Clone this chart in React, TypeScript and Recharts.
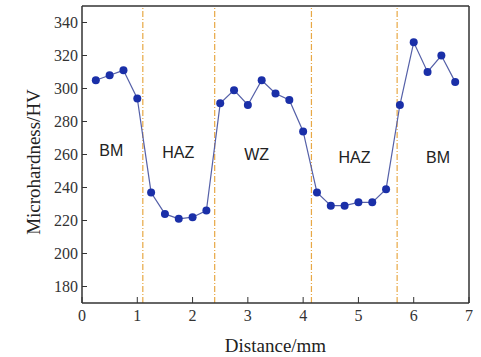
import React from 'react';
import {
  ComposedChart,
  Line,
  Scatter,
  XAxis,
  YAxis,
  ReferenceLine,
} from 'recharts';

// distance (mm) and microhardness (HV)
const distances = [
  0.25, 0.5, 0.75, 1.0, 1.25, 1.5, 1.75, 2.0, 2.25, 2.5, 2.75, 3.0, 3.25, 3.5,
  3.75, 4.0, 4.25, 4.5, 4.75, 5.0, 5.25, 5.5, 5.75, 6.0, 6.25, 6.5, 6.75,
];
const hardness = [
  305, 308, 311, 294, 237, 224, 221, 222, 226, 291, 299, 290, 305, 297,
  293, 274, 237, 229, 229, 231, 231, 239, 290, 328, 310, 320, 304,
];

// zone boundaries (dash-dot lines)
const boundaries = [1.1, 2.4, 4.15, 5.7];

// zone labels
const zoneNames = ['BM', 'HAZ', 'WZ', 'HAZ', 'BM'];
const zoneX = [0.53, 1.74, 3.16, 4.93, 6.44];
const zoneY = [262.5, 261, 260, 258.3, 258.3];

const xTicks = [0, 1, 2, 3, 4, 5, 6, 7];
const yTicks = [180, 200, 220, 240, 260, 280, 300, 320, 340];

const data = distances.map((d, i) => ({ d, hv: hardness[i] }));
const zones = zoneNames.map((name, i) => ({ d: zoneX[i], hv: zoneY[i], name }));

const serif = "'Liberation Serif', 'Times New Roman', serif";
const sans = "'Liberation Sans', Arial, sans-serif";
const axisColor = '#333';

const ZoneLabel = (props: any) => {
  const { cx, cy, payload } = props;
  return (
    <text
      x={cx}
      y={cy}
      textAnchor="middle"
      dominantBaseline="central"
      fontFamily={sans}
      fontSize={16}
      fill="#222"
    >
      {payload.name}
    </text>
  );
};

export default function App() {
  return (
    <div style={{ position: 'absolute', left: 0, top: 0, background: '#fff', fontFamily: serif }}>
      <ComposedChart
        width={481}
        height={357}
        data={data}
        margin={{ top: 6, right: 12, left: 0, bottom: 0 }}
        style={{ fontFamily: serif }}
      >
        <XAxis
          dataKey="d"
          type="number"
          domain={[0, 7]}
          ticks={xTicks}
          height={54}
          tickSize={-6}
          tickMargin={13}
          tick={{ fontSize: 16, fontFamily: serif, fill: axisColor }}
          axisLine={{ stroke: axisColor, strokeWidth: 1.5 }}
          tickLine={{ stroke: axisColor }}
          label={{
            content: (p: any) => {
              const vb = p.viewBox;
              return (
                <text
                  x={vb.x + vb.width / 2}
                  y={352}
                  textAnchor="middle"
                  fontFamily={serif}
                  fontSize={19}
                  fill="#222"
                >
                  Distance/mm
                </text>
              );
            },
          }}
        />
        <YAxis
          type="number"
          domain={[170, 350]}
          ticks={yTicks}
          width={82}
          tickSize={-5}
          tickMargin={9}
          tick={{ fontSize: 16, fontFamily: serif, fill: axisColor }}
          axisLine={{ stroke: axisColor, strokeWidth: 1.5 }}
          tickLine={{ stroke: axisColor }}
          label={{
            content: () => (
              <text
                x={0}
                y={0}
                transform="translate(40 162) rotate(-90)"
                textAnchor="middle"
                fontFamily={serif}
                fontSize={19}
                fill="#222"
              >
                Microhardness/HV
              </text>
            ),
          }}
        />
        <ReferenceLine y={350} stroke={axisColor} strokeWidth={1.5} />
        <ReferenceLine x={7} stroke={axisColor} strokeWidth={1.5} />
        {boundaries.map((b) => (
          <ReferenceLine
            key={b}
            x={b}
            stroke="#e8a845"
            strokeWidth={1.2}
            strokeDasharray="6 2 1 2"
          />
        ))}
        <Line
          dataKey="hv"
          type="linear"
          stroke="#5560a8"
          strokeWidth={1.2}
          dot={{ r: 4, fill: '#1a2fa8', stroke: '#1a2fa8', strokeWidth: 0 }}
          isAnimationActive={false}
        />
        <Scatter
          data={zones}
          dataKey="hv"
          shape={<ZoneLabel />}
          isAnimationActive={false}
        />
      </ComposedChart>
    </div>
  );
}
